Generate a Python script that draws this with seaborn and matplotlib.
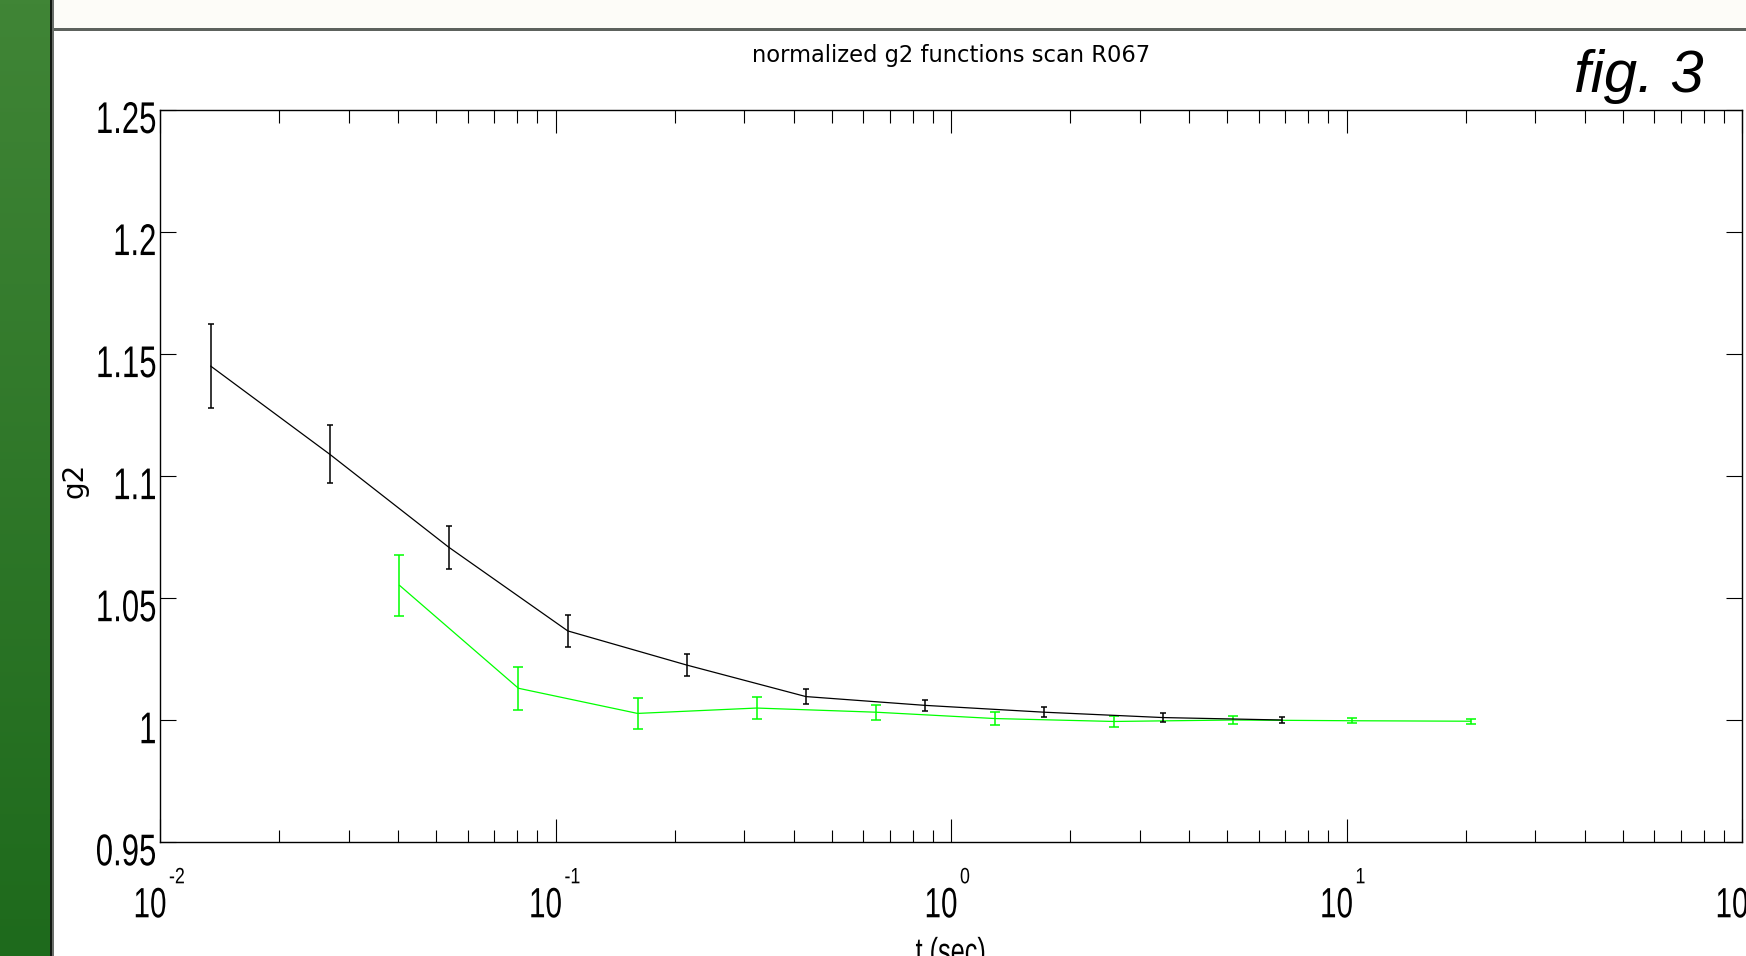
import numpy as np
import matplotlib
matplotlib.use("Agg")
import matplotlib.pyplot as plt
import matplotlib.transforms as mtransforms
from matplotlib.patches import Rectangle
from matplotlib.patheffects import AbstractPathEffect
from matplotlib.ticker import FixedLocator, LogLocator, NullFormatter
import pandas as pd
import seaborn as sns

# Lag times (s), normalized g2 and its uncertainty, scan R067
t_black = [0.01343, 0.02685, 0.0537, 0.1074, 0.2148, 0.4296, 0.8592, 1.718, 3.437, 6.874]
g2_black = [1.1451, 1.1090, 1.0709, 1.0366, 1.0226, 1.0097, 1.0061, 1.0033, 1.0011, 1.0001]
err_black = [0.0172, 0.0120, 0.0088, 0.0064, 0.0045, 0.0032, 0.0022, 0.0020, 0.0017, 0.0011]

t_green = [0.0403, 0.0806, 0.1612, 0.3224, 0.6449, 1.290, 2.579, 5.159, 10.32, 20.63]
g2_green = [1.0553, 1.0131, 1.0028, 1.0050, 1.0033, 1.0007, 0.9995, 1.0001, 0.9998, 0.9996]
err_green = [0.0124, 0.0089, 0.0063, 0.0044, 0.0031, 0.0025, 0.0022, 0.0015, 0.0011, 0.0011]

y_ticks = [0.95, 1.0, 1.05, 1.1, 1.15, 1.2, 1.25]
y_tick_labels = ["0.95", "1", "1.05", "1.1", "1.15", "1.2", "1.25"]
x_decades = [-2, -1, 0, 1, 2]

title = "normalized g2 functions scan R067"
x_label = "t (sec)"
y_label = "g2"
fig_tag = "fig. 3"

W, H, DPI = 1746, 956, 100


class Squeeze(AbstractPathEffect):
    """Draw text glyphs horizontally condensed about an anchor (0 left, 1 right)."""

    def __init__(self, sx, anchor):
        super().__init__()
        self.sx = sx
        self.anchor = anchor

    def draw_path(self, renderer, gc, tpath, affine, rgbFace=None):
        v = tpath.vertices
        cx = 0.0
        if len(v):
            x0, x1 = v[:, 0].min(), v[:, 0].max()
            cx = x0 + self.anchor * (x1 - x0)
        squeeze = mtransforms.Affine2D().translate(-cx, 0).scale(self.sx, 1).translate(cx, 0)
        renderer.draw_path(gc, tpath, squeeze + affine, rgbFace)


sns.set_theme(style="ticks")
plt.rcParams["font.family"] = ["Liberation Sans", "DejaVu Sans"]

fig = plt.figure(figsize=(W / DPI, H / DPI), dpi=DPI, facecolor="white")


def fx(px):
    return px / W


def fy(py):
    return 1 - py / H


# window chrome: green side bar, separators and pale header strip
side = fig.add_axes([0, 0, fx(50), 1], zorder=0)
top_rgb = np.array([64, 133, 54]) / 255
bot_rgb = np.array([30, 106, 28]) / 255
shade = np.linspace(0, 1, 256)[:, None, None]
side.imshow(top_rgb * (1 - shade) + bot_rgb * shade, aspect="auto", extent=[0, 1, 0, 1])
side.set_axis_off()

fig.add_artist(Rectangle((fx(50), 0), fx(2), 1, transform=fig.transFigure, color="#121812", lw=0))
fig.add_artist(Rectangle((fx(52), 0), fx(2), 1, transform=fig.transFigure, color="#6a6e6a", lw=0))
fig.add_artist(Rectangle((fx(54), fy(28)), 1, 28 / H, transform=fig.transFigure, color="#fdfcf8", lw=0))
fig.add_artist(Rectangle((fx(54), fy(31)), 1, 3 / H, transform=fig.transFigure, color="#5d625d", lw=0))

# main plot area
ax_top, ax_bot, ax_left, ax_right = 110.0, 842.3, 160.0, 1742.0
ax = fig.add_axes([fx(ax_left), fy(ax_bot), fx(ax_right - ax_left), (ax_bot - ax_top) / H])
ax.set_facecolor("white")
ax.set_xscale("log")

df_green = pd.DataFrame({"t": t_green, "g2": g2_green})
df_black = pd.DataFrame({"t": t_black, "g2": g2_black})

sns.lineplot(data=df_green, x="t", y="g2", ax=ax, color="#00ff00", lw=0.9,
             estimator=None, sort=False)
ax.errorbar(t_green, g2_green, yerr=err_green, fmt="none", ecolor="#00ff00",
            elinewidth=1.1, capsize=3.6, capthick=1.1)
sns.lineplot(data=df_black, x="t", y="g2", ax=ax, color="black", lw=0.9,
             estimator=None, sort=False)
ax.errorbar(t_black, g2_black, yerr=err_black, fmt="none", ecolor="black",
            elinewidth=1.1, capsize=2.5, capthick=1.1)

ax.set_xlim(10.0 ** x_decades[0], 10.0 ** x_decades[-1])
ax.set_ylim(y_ticks[0], y_ticks[-1])

ax.xaxis.set_major_locator(FixedLocator([10.0 ** k for k in x_decades]))
ax.xaxis.set_minor_locator(LogLocator(base=10, subs=np.arange(2, 10), numticks=50))
ax.xaxis.set_minor_formatter(NullFormatter())
ax.yaxis.set_major_locator(FixedLocator(y_ticks))
ax.tick_params(which="both", direction="in", top=True, right=True, bottom=True, left=True,
               labelbottom=False, labelleft=False, color="black", width=0.8)
ax.tick_params(axis="x", which="major", length=16.5)
ax.tick_params(axis="x", which="minor", length=9)
ax.tick_params(axis="y", which="major", length=11.5)
ax.tick_params(axis="y", which="minor", left=False, right=False)
for sp in ax.spines.values():
    sp.set_visible(True)
    sp.set_linewidth(1.0)
    sp.set_color("black")

# condensed tick labels
ylab_tr = mtransforms.offset_copy(ax.get_yaxis_transform(), fig=fig, x=-3, y=-23, units="dots")
for v, s in zip(y_ticks, y_tick_labels):
    ax.text(0, v, s, transform=ylab_tr, ha="right", va="baseline", fontsize=32,
            color="black", path_effects=[Squeeze(0.7, 1.0)], clip_on=False)

base_tr = mtransforms.offset_copy(ax.get_xaxis_transform(), fig=fig, x=7, y=-75, units="dots")
exp_tr = mtransforms.offset_copy(ax.get_xaxis_transform(), fig=fig, x=9, y=-41, units="dots")
for k in x_decades:
    ax.text(10.0 ** k, 0, "10", transform=base_tr, ha="right", va="baseline", fontsize=30.5,
            color="black", path_effects=[Squeeze(0.7, 1.0)], clip_on=False)
    ax.text(10.0 ** k, 0, str(k), transform=exp_tr, ha="left", va="baseline", fontsize=16,
            color="black", path_effects=[Squeeze(0.8, 0.0)], clip_on=False)

# axis labels and title
ax.set_xlabel(x_label, fontsize=26, color="black")
ax.xaxis.label.set_va("baseline")
ax.xaxis.label.set_path_effects([Squeeze(0.7, 0.5)])
ax.xaxis.set_label_coords(0.5, (ax_bot - 963) / (ax_bot - ax_top))
ax.set_ylabel(y_label, fontsize=20, family="DejaVu Sans", color="black")
ax.yaxis.label.set_va("center")
ax.yaxis.set_label_coords((74 - ax_left) / (ax_right - ax_left), (ax_bot - 480) / (ax_bot - ax_top))

ax.set_title(title, fontsize=16.3, family="DejaVu Sans", color="black",
             y=(ax_bot - 61.7) / (ax_bot - ax_top), va="baseline", pad=0)

fig.text(fx(1574), fy(92), fig_tag, fontsize=43, style="italic", family="Liberation Sans",
         ha="left", va="baseline", color="black")

fig.savefig("out.png", dpi=DPI)
